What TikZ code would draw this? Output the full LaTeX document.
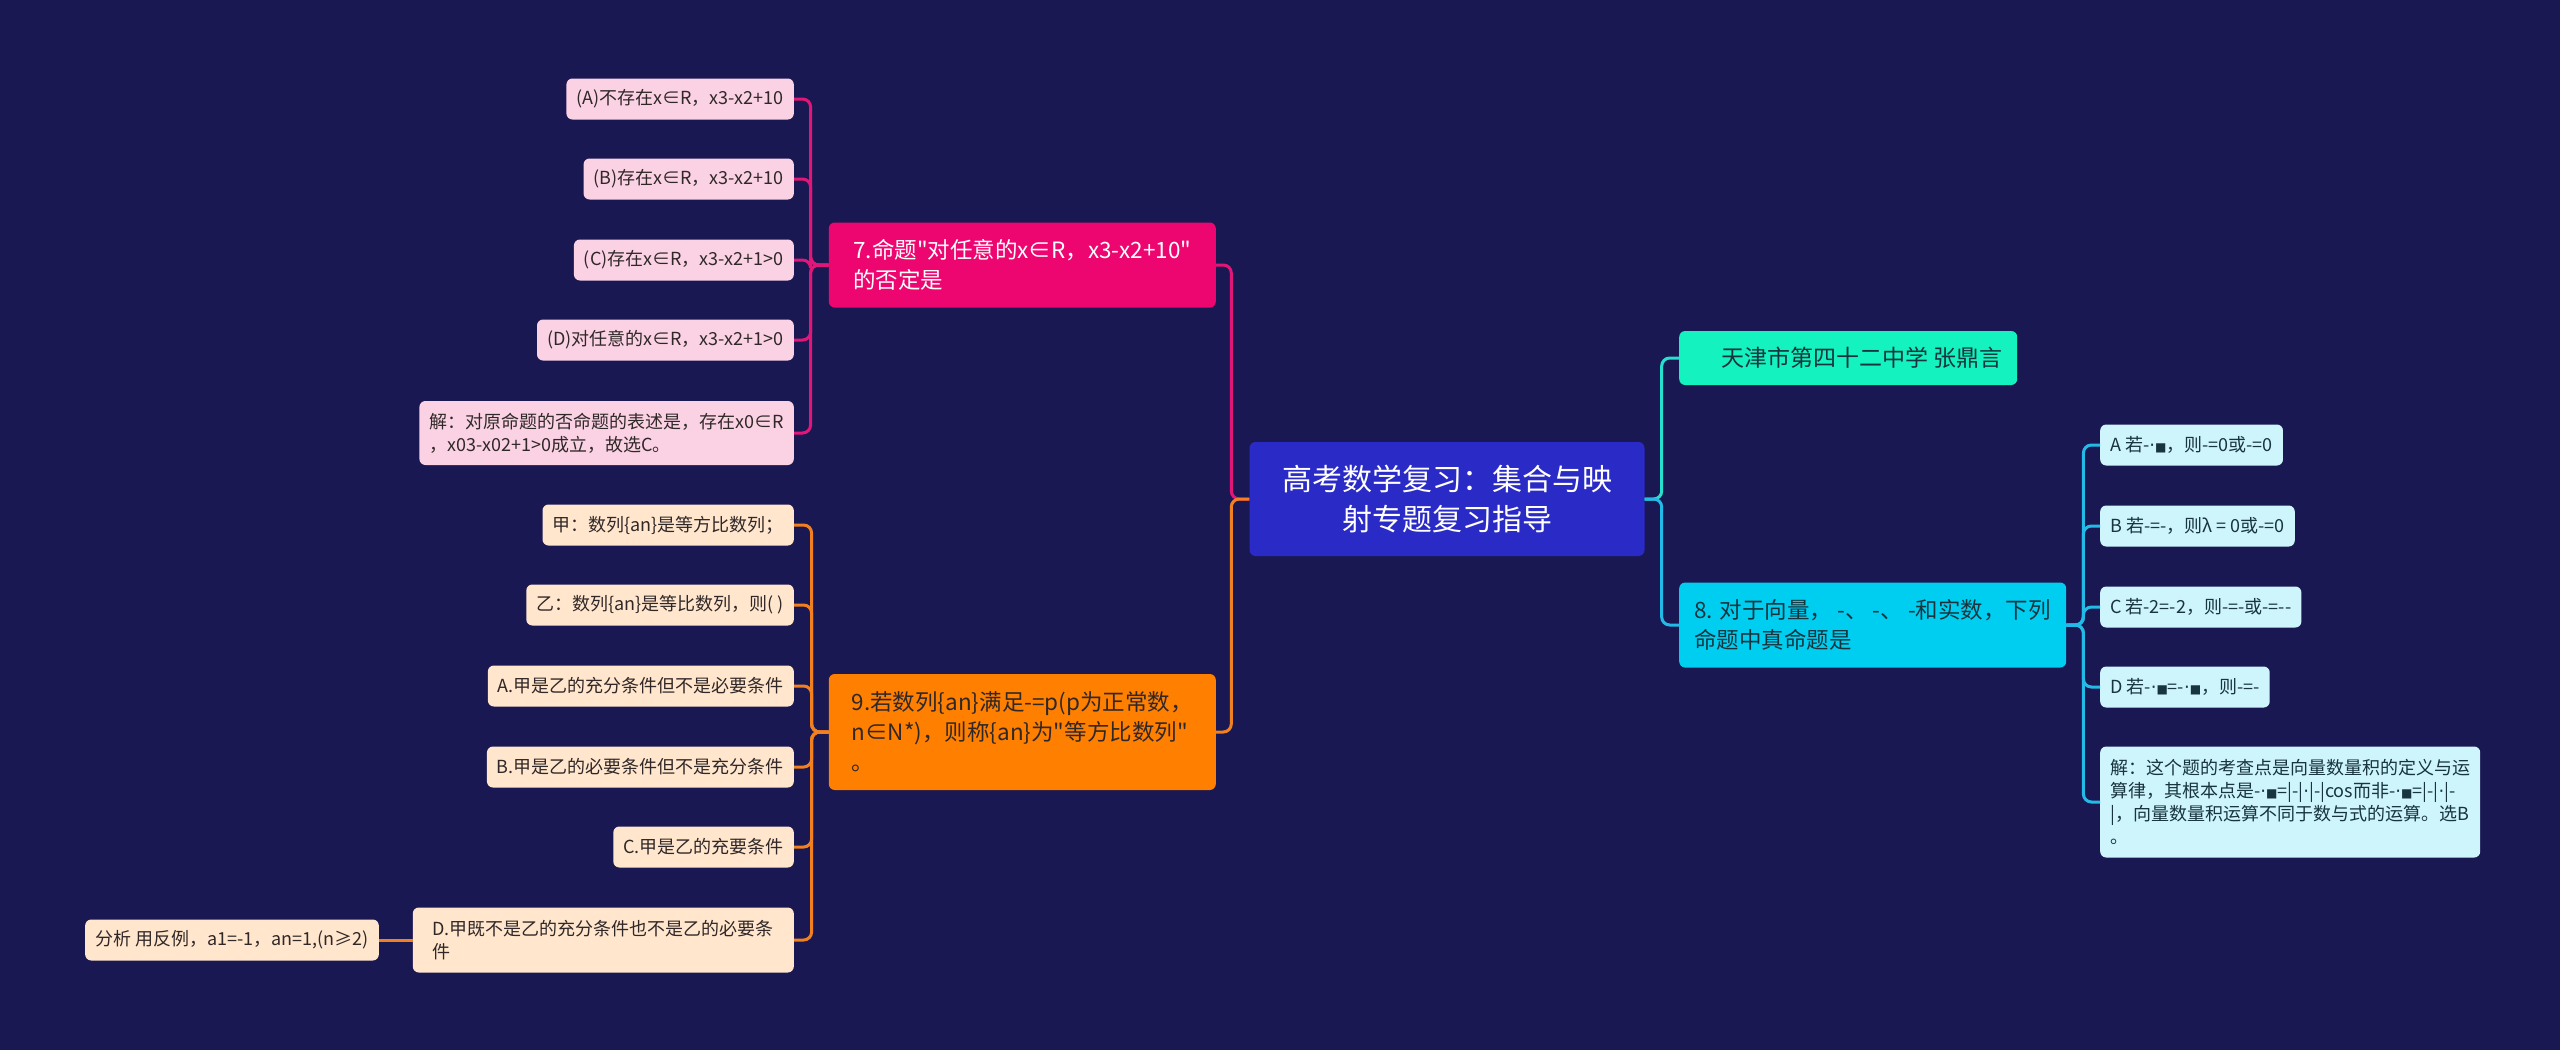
\documentclass[tikz,border=0pt]{standalone}
\usepackage{fontspec}
\setmainfont{Noto Sans CJK SC}
\newfontfamily\cjkfont{Noto Sans CJK SC}
\newfontfamily\symfont{DejaVu Sans}
\newcommand{\dotchar}{{\symfont ·}}
\newcommand{\sqchar}{{\symfont\fontsize{12}{12}\selectfont ■}}
\definecolor{bgnavy}{RGB}{26,24,82}
\definecolor{rootblue}{RGB}{42,42,198}
\definecolor{hotpink}{RGB}{238,6,112}
\definecolor{pinkline}{RGB}{226,22,120}
\definecolor{pinkleaf}{RGB}{250,210,228}
\definecolor{orangemain}{RGB}{255,127,0}
\definecolor{orangeline}{RGB}{240,128,32}
\definecolor{orangeleaf}{RGB}{255,230,205}
\definecolor{tealmain}{RGB}{20,242,192}
\definecolor{tealline}{RGB}{40,222,205}
\definecolor{cyanmain}{RGB}{0,206,240}
\definecolor{cyanline}{RGB}{36,186,232}
\definecolor{cyanleaf}{RGB}{206,244,252}
\definecolor{darktext}{RGB}{48,40,40}
\definecolor{slatetext}{RGB}{24,52,62}

\begin{document}
\begin{tikzpicture}[x=1pt,y=-1pt,
		box/.style={rounded corners=6pt,inner xsep=10pt,inner ysep=4pt,align=left},
		topic/.style={box,inner xsep=12pt,minimum width=387pt,font=\cjkfont\fontsize{22.5}{30}\selectfont},
		leaf/.style={box,minimum height=41pt,text=darktext,font=\cjkfont\fontsize{18}{23}\selectfont},
		pinkleafbox/.style={leaf,fill=pinkleaf},
		orangeleafbox/.style={leaf,fill=orangeleaf},
		cyanleafbox/.style={leaf,fill=cyanleaf,text=slatetext},
		link/.style={line width=3pt,rounded corners=8pt}]
		\useasboundingbox (0,0) rectangle (2560,1050);
		\fill[bgnavy] (0,0) rectangle (2560,1050);
		
		\node[box,fill=rootblue,text=white,align=center,minimum width=395pt,minimum height=114pt,font=\cjkfont\fontsize{30}{40}\selectfont] (root) at (1447,499) {高考数学复习：集合与映\\射专题复习指导};
		
		% left: question 7
		\node[topic,fill=hotpink,text=white,minimum height=85pt,anchor=east] (q7) at (1216,265) {7.命题"对任意的x∈R，x3-x2+10"\\的否定是};
		\node[pinkleafbox,anchor=east] (a7) at (794,99) {(A)不存在x∈R，x3-x2+10};
		\node[pinkleafbox,anchor=east] (b7) at (794,179) {(B)存在x∈R，x3-x2+10};
		\node[pinkleafbox,anchor=east] (c7) at (794,260) {(C)存在x∈R，x3-x2+1>0};
		\node[pinkleafbox,anchor=east] (d7) at (794,340) {(D)对任意的x∈R，x3-x2+1>0};
		\node[pinkleafbox,minimum height=64pt,anchor=east] (s7) at (794,433) {解：对原命题的否命题的表述是，存在x0∈R\\，x03-x02+1>0成立，故选C。};
		
		% left: question 9
		\node[topic,fill=orangemain,text=darktext,minimum height=116pt,anchor=east] (q9) at (1216,732) {9.若数列\{an\}满足-=p(p为正常数，\\n∈N*)，则称\{an\}为"等方比数列"\\。};
		\node[orangeleafbox,anchor=east] (jia9) at (794,525) {甲：数列\{an\}是等方比数列；};
		\node[orangeleafbox,anchor=east] (yi9) at (794,605) {乙：数列\{an\}是等比数列，则( )};
		\node[orangeleafbox,anchor=east] (a9) at (794,686) {A.甲是乙的充分条件但不是必要条件};
		\node[orangeleafbox,anchor=east] (b9) at (794,767) {B.甲是乙的必要条件但不是充分条件};
		\node[orangeleafbox,anchor=east] (c9) at (794,847) {C.甲是乙的充要条件};
		\node[orangeleafbox,minimum height=65pt,minimum width=381pt,anchor=east] (d9) at (794,940) {D.甲既不是乙的充分条件也不是乙的必要条\\件};
		\node[orangeleafbox,anchor=east] (fx) at (379,940) {分析 用反例，a1=-1，an=1,(n≥2)};
		
		% right: author and question 8
		\node[box,fill=tealmain,text=slatetext,minimum width=338pt,minimum height=54pt,font=\cjkfont\fontsize{23}{28}\selectfont,anchor=west] (tj) at (1679,358) {\hspace*{28pt}天津市第四十二中学 张鼎言};
		\node[topic,fill=cyanmain,text=slatetext,minimum height=85pt,anchor=west] (q8) at (1679,625) {8. 对于向量， -、 -、 -和实数，下列\\命题中真命题是};
		\node[cyanleafbox,anchor=west] (a8) at (2100,445) {A 若-\dotchar\sqchar，则-=0或-=0};
		\node[cyanleafbox,anchor=west] (b8) at (2100,526) {B 若-=-，则λ = 0或-=0};
		\node[cyanleafbox,anchor=west] (c8) at (2100,607) {C 若-2=-2，则-=-或-=--};
		\node[cyanleafbox,anchor=west] (d8) at (2100,687) {D 若-\dotchar\sqchar=-\dotchar\sqchar，则-=-};
		\node[cyanleafbox,minimum height=111pt,anchor=west] (s8) at (2100,802) {解：这个题的考查点是向量数量积的定义与运\\算律，其根本点是-\dotchar\sqchar=|-|\dotchar|-|cos而非-\dotchar\sqchar=|-|\dotchar|-\\|，向量数量积运算不同于数与式的运算。选B\\。};
		
		% connectors
		\draw[link,pinkline] (root.west) -- ++(-18,0) |- (q7.east);
		\draw[link,orangeline] (root.west) -- ++(-18,0) |- (q9.east);
		\draw[link,tealline] (root.east) -- ++(17,0) |- (tj.west);
		\draw[link,cyanline] (root.east) -- ++(17,0) |- (q8.west);
		
		\draw[link,pinkline] (q7.west) -- ++(-18,0) |- (a7.east);
		\draw[link,pinkline] (q7.west) -- ++(-18,0) |- (b7.east);
		\draw[link,pinkline] (q7.west) -- ++(-18,0) |- (c7.east);
		\draw[link,pinkline] (q7.west) -- ++(-18,0) |- (d7.east);
		\draw[link,pinkline] (q7.west) -- ++(-18,0) |- (s7.east);
		
		\draw[link,orangeline] (q9.west) -- ++(-17,0) |- (jia9.east);
		\draw[link,orangeline] (q9.west) -- ++(-17,0) |- (yi9.east);
		\draw[link,orangeline] (q9.west) -- ++(-17,0) |- (a9.east);
		\draw[link,orangeline] (q9.west) -- ++(-17,0) |- (b9.east);
		\draw[link,orangeline] (q9.west) -- ++(-17,0) |- (c9.east);
		\draw[link,orangeline] (q9.west) -- ++(-17,0) |- (d9.east);
		\draw[link,orangeline] (d9.west) -- (fx.east);
		
		\draw[link,cyanline] (q8.east) -- ++(17,0) |- (a8.west);
		\draw[link,cyanline] (q8.east) -- ++(17,0) |- (b8.west);
		\draw[link,cyanline] (q8.east) -- ++(17,0) |- (c8.west);
		\draw[link,cyanline] (q8.east) -- ++(17,0) |- (d8.west);
		\draw[link,cyanline] (q8.east) -- ++(17,0) |- (s8.west);
	\end{tikzpicture}
\end{document}
